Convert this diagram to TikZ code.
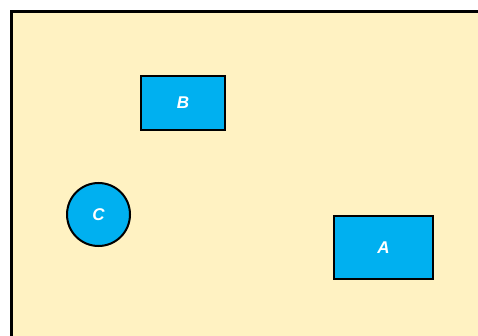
\documentclass[tikz,border=0pt]{standalone}
\usepackage{fontspec}
\setmainfont{Liberation Sans}
\definecolor{bgyellow}{HTML}{FFF2C2}
\definecolor{boxblue}{HTML}{00B0F0}
\begin{document}
\begin{tikzpicture}[x=1pt,y=-1pt,
  shapebox/.style={draw=black,line width=2pt,fill=boxblue,inner sep=0pt,
    font=\fontsize{17}{17}\selectfont\bfseries\itshape,text=white},
]
\useasboundingbox (0,0) rectangle (478,336);
\clip (0,0) rectangle (478,336);
\fill[white] (0,0) rectangle (478,336);
\draw[line width=3pt,fill=bgyellow] (11.5,11.5) rectangle (500,360);
\node[shapebox,rectangle,minimum width=84pt,minimum height=54pt] (B) at (183,103) {B};
\node[shapebox,circle,minimum size=63pt] (C) at (98.5,214.5) {C};
\node[shapebox,rectangle,minimum width=99pt,minimum height=63pt] (A) at (383.5,247.5) {A};
\end{tikzpicture}
\end{document}
